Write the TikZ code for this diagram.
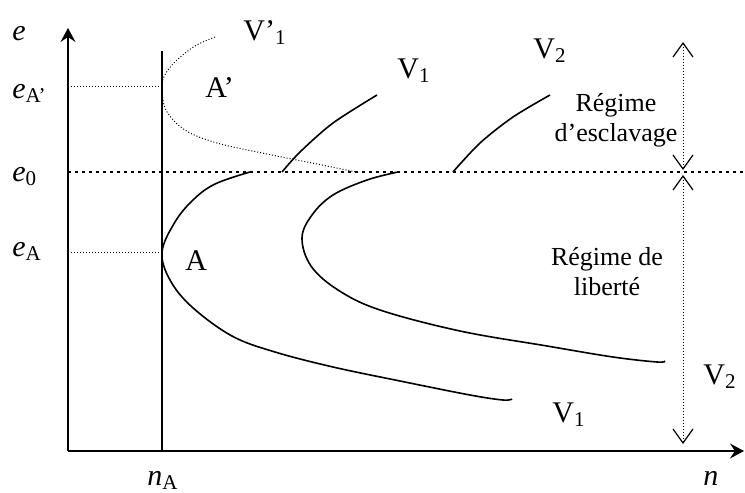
\documentclass[tikz,border=0pt]{standalone}
\usepackage{fontspec}
\setmainfont{Liberation Serif}
\usetikzlibrary{arrows.meta, positioning}
\tikzset{
  axis/.style={-{Stealth[length=7pt,width=7.5pt,inset=2.5pt]}, line width=1pt},
  curve/.style={line width=0.8pt},
  guide/.style={line width=0.5pt, dash pattern=on 0.5pt off 1pt},
  limit/.style={line width=1.3pt, dash pattern=on 1.3pt off 2.2pt},
  span/.style={guide,
    {Straight Barb[length=7pt,width=10pt,line width=0.6pt]}-{Straight Barb[length=7pt,width=10pt,line width=0.6pt]}},
  lab/.style={font=\fontsize{15}{17}\selectfont, inner sep=0pt, anchor=base west},
  regime/.style={font=\fontsize{13}{15}\selectfont, align=center, inner sep=0pt}
}
\begin{document}
\begin{tikzpicture}[x=0.5pt, y=-0.5pt]
  \useasboundingbox (0,0) rectangle (745,493);
  % axes
  \coordinate (O) at (68,451);
  \draw[axis] (O) -- (68,28);
  \draw[axis] (O) -- (744,451);
  \draw[curve] (162,51) -- (162,451);
  % levels
  \draw[limit] (68,172) -- (745,172);
  \draw[guide] (68,86) -- (162,86);
  \draw[guide] (68,252) -- (162,252);
  % V1
  \draw[curve] plot[smooth, tension=0.6] coordinates {(250,172) (215,184) (193,200)
    (175,222) (162,252) (170,280) (192,307) (232,336) (275,352) (333,367)
    (400,381) (470,395) (503,400) (512,399)};
  \draw[curve] plot[smooth] coordinates {(282,172) (300,152) (333,123) (377,95)};
  % V'1
  \draw[guide] plot[smooth, tension=0.6] coordinates {(215,37) (195,46) (177,60)
    (166,73) (162,86) (166,110) (185,130) (217,143) (267,154) (317,164) (356,172)};
  % V2
  \draw[curve] plot[smooth, tension=0.6] coordinates {(398,172) (367,180) (333,195)
    (312,215) (302,238) (311,266) (338,290) (380,310) (460,331) (547,346)
    (613,357) (657,362) (665,361)};
  \draw[curve] plot[smooth] coordinates {(453,172) (480,143) (513,117) (550,95)};
  % regimes
  \draw[span] (683,42) -- (683,170);
  \draw[span] (683,175) -- (683,444);
  \node[regime] (esc) at (616,120) {Régime\\d’esclavage};
  \node[regime] (lib) at (607,272) {Régime de\\liberté};
  % labels
  \node[lab] (e) at (12,40) {\textit{e}};
  \node[lab] (eAp) at (12,98) {\textit{e}\textsubscript{A’}};
  \node[lab] (e0) at (12,181) {\textit{e}\textsubscript{0}};
  \node[lab] (eA) at (12,256) {\textit{e}\textsubscript{A}};
  \node[lab] (nA) at (147,485) {\textit{n}\textsubscript{A}};
  \node[lab] (n) at (703,485) {\textit{n}};
  \node[lab] (A) at (185,270) {A};
  \node[lab] (Ap) at (205,97) {A’};
  \node[lab] (Vp1) at (243,40) {V’\textsubscript{1}};
  \node[lab] (V1a) at (397,78) {V\textsubscript{1}};
  \node[lab] (V2a) at (533,58) {V\textsubscript{2}};
  \node[lab] (V2b) at (703,384) {V\textsubscript{2}};
  \node[lab] (V1b) at (552,422) {V\textsubscript{1}};
\end{tikzpicture}
\end{document}
